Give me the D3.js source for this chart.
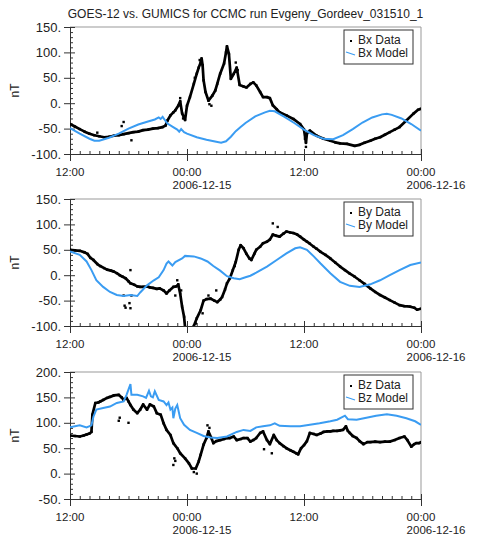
<!DOCTYPE html>
<html>
<head>
<meta charset="utf-8">
<script src="https://cdn.jsdelivr.net/npm/d3@7"></script>
<style>
  body { margin: 0; background: #fff; }
  text { font-family: "Liberation Sans", Arial, sans-serif; fill: #222; }
</style>
</head>
<body>
<div id="chart"></div>
<script>
// hours after 2006-12-14 12:00 UT, value in nT
const bxData = [[0,-41],[0.5,-46],[1,-51],[1.5,-56],[2,-60],[2.5,-63],[3,-65],[3.5,-67],[4,-66],[4.5,-64],[5,-63],[5.5,-61],[6,-59],[6.5,-57],[7,-56],[7.5,-53],[8,-52],[8.5,-50],[9,-49],[9.5,-47],[9.8,-44],[10,-34],[10.3,-24],[10.6,-18],[10.8,-14],[11.1,-5],[11.3,4],[11.5,-20],[11.8,-33],[12,-5],[12.3,12],[12.7,38],[13,58],[13.2,70],[13.4,80],[13.5,88],[13.6,75],[13.7,45],[13.9,22],[14.2,5],[14.6,15],[14.9,25],[15.1,38],[15.4,58],[15.8,78],[16,100],[16.1,112],[16.3,97],[16.5,48],[16.8,58],[17.1,70],[17.4,36],[17.8,33],[18.1,31],[18.5,38],[18.8,41],[19.1,35],[19.5,22],[19.8,12],[20.2,12],[20.5,10],[20.8,-4],[21.2,-12],[21.5,-18],[22.2,-24],[22.9,-31],[23.6,-41],[24,-52],[24.2,-78],[24.3,-60],[24.6,-54],[25.3,-64],[26,-70],[26.7,-74],[27.2,-77],[27.7,-79],[28.4,-80],[29.2,-84],[29.7,-82],[30.2,-78],[30.8,-74],[31.3,-70],[31.8,-67],[32.3,-62],[32.8,-57],[33.3,-52],[33.8,-47],[34.5,-34],[35.2,-21],[35.7,-13],[36,-11]];
const bxScatter = [[5.5,-37],[5.3,-45],[6.3,-73],[2.8,-58],[11.3,10],[11.6,-30],[12.8,50],[13.3,85],[14.3,-2],[14.5,-5],[17,80],[17.2,65],[24.1,-70],[24.2,-86]];
const bxModel = [[0,-49],[1,-60],[2,-70],[2.5,-74],[3,-74],[4,-68],[5,-60],[6,-50],[7,-42],[8,-36],[8.7,-32],[9.1,-28],[9.3,-31],[9.5,-27],[9.8,-35],[10,-40],[10.5,-46],[11,-52],[11.2,-56],[11.4,-51],[11.7,-57],[12,-60],[13,-67],[14,-72],[15,-76],[15.5,-78],[16,-75],[16.5,-66],[17,-55],[17.5,-47],[18,-39],[19,-26],[20,-18],[20.5,-15],[21,-16],[22,-27],[23,-39],[24,-52],[25,-63],[26,-70],[27,-71],[28,-63],[29,-51],[30,-38],[31,-28],[32,-22],[32.5,-21],[33,-23],[34,-30],[35,-41],[36,-54]];

const byData = [[0,50],[0.5,49],[1,48],[1.5,45],[1.8,42],[2.1,34],[2.4,30],[2.8,22],[3.1,18],[3.5,14],[3.8,11],[4.2,9],[4.5,7],[4.8,4],[5.1,0],[5.4,-3],[5.7,-6],[6,-12],[6.2,-16],[6.6,-19],[6.9,-22],[7.2,-23],[7.5,-23],[7.9,-22],[8.2,-24],[8.5,-25],[8.9,-27],[9.2,-26],[9.6,-30],[9.9,-36],[10.2,-30],[10.6,-23],[10.9,-22],[11.1,-18],[11.3,-36],[11.5,-62],[11.7,-82],[11.8,-102],[12,-115],[12.4,-120],[12.7,-100],[13,-85],[13.4,-69],[13.7,-50],[14,-47],[14.4,-46],[14.8,-50],[15.1,-53],[15.4,-48],[15.6,-43],[15.9,-28],[16.1,-16],[16.4,-6],[16.7,10],[17,26],[17.3,50],[17.5,59],[17.8,53],[18.1,42],[18.4,33],[18.6,30],[18.9,42],[19.1,50],[19.5,56],[19.8,63],[20.2,66],[20.5,70],[20.8,80],[21.1,78],[21.5,76],[21.9,82],[22.2,86],[22.6,84],[22.9,83],[23.3,80],[23.6,76],[24,70],[24.3,66],[24.6,62],[25,56],[25.3,52],[25.7,46],[26.2,40],[26.7,33],[27.2,25],[27.7,17],[28.2,10],[28.7,3],[29.2,-3],[29.7,-10],[30.2,-17],[30.8,-26],[31.3,-33],[31.8,-39],[32.3,-44],[32.8,-49],[33.3,-54],[33.8,-59],[34.3,-61],[34.9,-62],[35.3,-64],[35.6,-68],[36,-66]];
const byScatter = [[5.5,-40],[5.6,-60],[5.7,-64],[6.1,-55],[6.2,-65],[6.3,-40],[6.2,10],[10.8,-40],[11,-10],[11.4,-30],[12.9,-95],[13.6,-75],[14.2,-40],[15,-30],[16.9,18],[20.8,102],[21.3,95]];
const byModel = [[0,47],[1,40],[1.7,27],[2.2,10],[2.7,-10],[3.4,-23],[4.1,-33],[4.8,-39],[5.5,-41],[6.2,-39],[6.9,-41],[7.2,-34],[7.9,-20],[8.6,-10],[9.1,-4],[9.6,10],[9.9,23],[10.1,27],[10.5,19],[10.8,26],[11.5,33],[11.8,38],[12.7,37],[13.4,33],[14.1,27],[14.7,18],[15.4,9],[16.1,-2],[16.8,-6],[17.4,-8],[18,-4],[18.5,-1],[19.1,5],[20.2,17],[21.2,30],[22.2,43],[23.1,53],[23.6,55],[24.3,50],[25,37],[25.7,23],[26.7,4],[27.7,-13],[28.7,-21],[29.7,-23],[30.8,-18],[31.8,-10],[32.8,0],[33.8,10],[34.9,20],[36,25]];

const bzData = [[0,75],[0.5,74],[1,73],[1.4,75],[1.7,77],[2,79],[2.2,82],[2.3,116],[2.6,139],[2.9,140],[3.1,142],[3.4,145],[3.8,149],[4.1,151],[4.5,154],[5,155],[5.3,150],[5.5,145],[5.8,149],[6,142],[6.2,135],[6.5,126],[6.9,119],[7.2,126],[7.5,136],[7.9,126],[8.2,136],[8.6,132],[8.9,119],[9.3,116],[9.6,99],[9.9,86],[10.3,76],[10.6,60],[11,50],[11.3,40],[11.8,30],[12.2,20],[12.5,10],[12.9,10],[13.2,24],[13.4,37],[13.7,57],[14,70],[14.2,83],[14.5,70],[14.7,60],[15,64],[15.4,66],[15.8,68],[16.1,70],[16.4,70],[16.8,73],[17.1,66],[17.5,68],[17.8,70],[18.2,70],[18.5,63],[18.8,66],[19.1,70],[19.5,80],[19.8,83],[20.2,66],[20.5,58],[20.9,76],[21.2,66],[21.5,60],[21.9,54],[22.2,50],[22.6,46],[22.9,43],[23.2,40],[23.4,38],[23.7,50],[24,56],[24.3,64],[24.6,80],[25,78],[25.3,76],[25.7,79],[26,82],[26.4,83],[26.7,83],[27,84],[27.4,84],[27.7,85],[28,86],[28.3,93],[28.5,84],[28.7,80],[29,74],[29.4,70],[29.7,64],[30.1,58],[30.5,62],[30.8,62],[31.3,63],[31.8,62],[32.3,63],[32.8,63],[33.3,66],[33.8,70],[34.3,73],[34.6,66],[35,53],[35.3,58],[35.5,60],[35.8,60],[36,62]];
const bzScatter = [[5,104],[5.1,110],[6,100],[10.6,17],[10.7,30],[10.8,25],[12.7,3],[13,0],[14.1,95],[14.3,90],[19.9,48],[20.7,40]];
const bzModel = [[0,91],[1,95],[1.7,91],[2.2,95],[2.4,112],[2.7,126],[3.4,129],[4.1,132],[4.8,139],[5.5,142],[5.8,155],[6.2,176],[6.3,155],[6.9,155],[7.5,152],[7.8,149],[8.1,163],[8.3,152],[8.5,150],[8.7,162],[9.1,145],[9.6,142],[9.9,135],[10.1,140],[10.3,126],[10.5,130],[10.6,109],[10.8,128],[11,135],[11.3,109],[11.7,96],[12.3,86],[13,80],[13.7,74],[14.4,71],[15.1,70],[16.1,73],[17.1,82],[17.8,86],[18.5,84],[19.1,91],[19.8,93],[20.5,95],[21,99],[21.5,94],[22.6,93],[23.6,93],[24.6,96],[25.6,99],[26.7,103],[27.4,106],[28.2,114],[28.5,107],[29.4,106],[30.4,110],[31.4,114],[32.5,117],[33.5,114],[34.5,109],[35.4,103],[36,96]];

const bxRange = [-100, 150];
const byRange = [-100, 150];
const bzRange = [-50, 200];

const xTickHours = [0, 12, 24, 36];
const xTickTimes = ["12:00", "00:00", "12:00", "00:00"];
const xTickDates = ["", "2006-12-15", "", "2006-12-16"];

const title = "GOES-12 vs. GUMICS for CCMC run Evgeny_Gordeev_031510_1";
const blue = "#3a9cf2";

const W = 478, H = 536;
const left = 70, right = 421, ph = 127;
const t0 = Date.UTC(2006, 11, 14, 12);
const toDate = h => new Date(t0 + h * 3600e3);

const svg = d3.select("#chart").append("svg")
    .attr("width", W)
    .attr("height", H);

svg.append("text")
    .attr("x", (left + right) / 2)
    .attr("y", 18)
    .attr("text-anchor", "middle")
    .style("font-size", "12px")
    .text(title);

const x = d3.scaleUtc()
    .domain([toDate(0), toDate(36)])
    .range([left, right]);

const panels = [
    {name: "Bx", data: bxData, scatter: bxScatter, model: bxModel, range: bxRange, top: 27},
    {name: "By", data: byData, scatter: byScatter, model: byModel, range: byRange, top: 199},
    {name: "Bz", data: bzData, scatter: bzScatter, model: bzModel, range: bzRange, top: 372}
];

panels.forEach((p, i) => {
    const bottom = p.top + ph;
    const y = d3.scaleLinear().domain(p.range).range([bottom, p.top]);
    const g = svg.append("g");

    const clipId = "clip" + i;
    svg.append("clipPath").attr("id", clipId)
        .append("rect")
        .attr("x", left).attr("y", p.top)
        .attr("width", right - left).attr("height", ph);

    // frame top/right
    g.append("path")
        .attr("d", `M${left},${p.top}H${right}V${bottom}`)
        .attr("fill", "none")
        .attr("stroke", "#999")
        .attr("stroke-width", 1);

    const majors = d3.range(p.range[0], p.range[1] + 1, 50);
    const minors = d3.range(p.range[0], p.range[1] + 1, 10).filter(v => !majors.includes(v));

    // y axis
    const ya = g.append("g")
        .attr("transform", `translate(${left},0)`)
        .call(d3.axisLeft(y).tickValues(majors).tickSize(6).tickPadding(3)
            .tickFormat(d => d + "."));
    ya.selectAll("text").style("font-size", "13px").attr("fill", "#222");
    g.append("g")
        .attr("transform", `translate(${left},0)`)
        .call(d3.axisRight(y).tickValues(majors).tickSize(5).tickFormat(""))
        .call(a => a.select(".domain").remove());
    g.append("g")
        .attr("transform", `translate(${left},0)`)
        .call(d3.axisRight(y).tickValues(minors).tickSize(3).tickFormat(""))
        .call(a => a.select(".domain").remove());

    // x axis
    const xMajor = xTickHours.map(toDate);
    g.append("g")
        .attr("transform", `translate(0,${bottom})`)
        .call(d3.axisBottom(x).tickValues(xMajor).tickSize(7).tickFormat(""));
    g.append("g")
        .attr("transform", `translate(0,${bottom})`)
        .call(d3.axisTop(x).tickValues(xMajor).tickSize(5).tickFormat(""))
        .call(a => a.select(".domain").remove());
    g.append("g")
        .attr("transform", `translate(0,${bottom})`)
        .call(d3.axisTop(x).ticks(d3.utcHour.every(1)).tickSize(3).tickFormat(""))
        .call(a => a.select(".domain").remove());
    g.selectAll(".domain, .tick line").attr("stroke", "#333");

    xTickHours.forEach((h, k) => {
        const tx = g.append("text")
            .attr("x", x(toDate(h)))
            .attr("y", bottom + 21.8)
            .attr("text-anchor", "middle")
            .style("font-size", "11.5px")
            .text(xTickTimes[k]);
        if (xTickDates[k]) {
            const w = tx.node().getComputedTextLength();
            g.append("text")
                .attr("x", x(toDate(h)) - w / 2)
                .attr("y", bottom + 34.5)
                .style("font-size", "11.5px")
                .text(xTickDates[k]);
        }
    });

    g.append("text")
        .attr("transform", `translate(19,${p.top + ph / 2}) rotate(-90)`)
        .attr("text-anchor", "middle")
        .style("font-size", "12px")
        .text("nT");

    const plot = g.append("g").attr("clip-path", `url(#${clipId})`);
    const line = d3.line()
        .x(d => x(toDate(d[0])))
        .y(d => y(d[1]));

    plot.append("path")
        .datum(p.data)
        .attr("d", line)
        .attr("fill", "none")
        .attr("stroke", "#000")
        .attr("stroke-width", 2.7)
        .attr("stroke-linejoin", "round");

    plot.selectAll("rect.pt")
        .data(p.data.concat(p.scatter))
        .enter()
        .append("rect")
        .attr("class", "pt")
        .attr("x", d => x(toDate(d[0])) - 1.2)
        .attr("y", d => y(d[1]) - 1.2)
        .attr("width", 2.4)
        .attr("height", 2.4)
        .attr("fill", "#000");

    plot.append("path")
        .datum(p.model)
        .attr("d", line)
        .attr("fill", "none")
        .attr("stroke", blue)
        .attr("stroke-width", 2);

    // legend
    const lg = g.append("g").attr("transform", `translate(344,${p.top + 3})`);
    lg.append("rect")
        .attr("width", 69).attr("height", 34)
        .attr("fill", "#fff").attr("stroke", "#333");
    lg.append("rect")
        .attr("x", 6).attr("y", 10).attr("width", 2).attr("height", 2)
        .attr("fill", "#000");
    lg.append("text").attr("x", 14).attr("y", 14)
        .style("font-size", "12px").text(p.name + " Data");
    lg.append("line")
        .attr("x1", 2).attr("y1", 22).attr("x2", 11).attr("y2", 25)
        .attr("stroke", blue).attr("stroke-width", 1.2);
    lg.append("text").attr("x", 14).attr("y", 27)
        .style("font-size", "12px").text(p.name + " Model");
});
</script>
</body>
</html>
